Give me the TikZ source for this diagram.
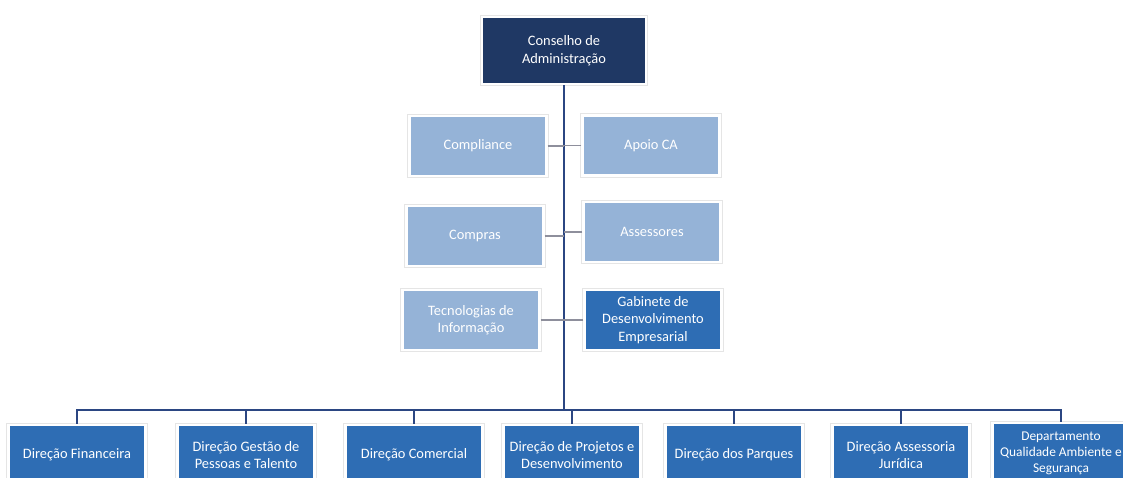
\documentclass[tikz,border=0pt]{standalone}
\usepackage{fontspec}
\setmainfont{Carlito}
\usetikzlibrary{shadows}
\definecolor{boardnavy}{HTML}{1F3864}
\definecolor{paleblue}{HTML}{95B3D7}
\definecolor{midblue}{HTML}{2E6DB4}
\definecolor{linenavy}{HTML}{2B4682}
\definecolor{linegray}{HTML}{8E8F9C}

\begin{document}
\begin{tikzpicture}[
    x=1pt, y=-1pt,
    box/.style={draw=white, line width=2.4pt, text=white, align=center,
                font=\fontsize{14.4}{17.5}\selectfont, inner sep=2pt,
                minimum width=137pt, minimum height=60pt,
                preaction={draw=black!10, line width=4.4pt},
                drop shadow={shadow xshift=1pt, shadow yshift=-1.4pt,
                             opacity=0.25, fill=black!60}},
    board/.style={box, fill=boardnavy, minimum width=164pt, minimum height=67pt},
    staff/.style={box, fill=paleblue},
    unit/.style={box, fill=midblue},
    spine/.style={linenavy, line width=2.2pt},
    bus/.style={linenavy, line width=1.4pt},
    twig/.style={linegray, line width=1.2pt}
]
\useasboundingbox (0,0) rectangle (1123,477);
\clip (0,0) rectangle (1123,477);

% =========================================================
% TOP: board
% =========================================================
\node[board] (board) at (564,50.5) {Conselho de\\Administração};

% =========================================================
% MIDDLE: staff units on both sides of the spine
% =========================================================
\node[staff] (compliance) at (478,146) {Compliance};
\node[staff] (apoio)      at (651,145.5) {Apoio CA};
\node[staff] (compras)    at (475,236) {Compras};
\node[staff] (assessores) at (652,232) {Assessores};
\node[staff] (tecinfo)    at (471,320) {Tecnologias de\\Informação};
\node[unit]  (gabinete)   at (653,320) {Gabinete de\\Desenvolvimento\\Empresarial};

% =========================================================
% BOTTOM: directions
% =========================================================
\node[unit] (dfin)      at (77,455)   {Direção Financeira};
\node[unit] (dpessoas)  at (246,455)  {Direção Gestão de\\Pessoas e Talento};
\node[unit] (dcom)      at (414,455)  {Direção Comercial};
\node[unit] (dprojetos) at (572,455)  {Direção de Projetos e\\Desenvolvimento};
\node[unit] (dparques)  at (734,455)  {Direção dos Parques};
\node[unit] (djuridica) at (901,455)  {Direção Assessoria\\Jurídica};
\node[unit, font=\fontsize{13.4}{16}\selectfont]
            (dqas)      at (1061,453) {Departamento\\Qualidade Ambiente e\\Segurança};

% connectors
\coordinate (hub) at (564,410);
\draw[spine] (board.south) -- (hub);
\foreach \n in {compliance,compras,tecinfo}
  \draw[twig] (\n.east) -- (\n.east -| hub);
\foreach \n in {apoio,assessores,gabinete}
  \draw[twig] (\n.west) -- (\n.west -| hub);
\foreach \n in {dfin,dpessoas,dcom,dprojetos,dparques,djuridica,dqas}
  \draw[bus] (hub) -| (\n.north);

\end{tikzpicture}
\end{document}
